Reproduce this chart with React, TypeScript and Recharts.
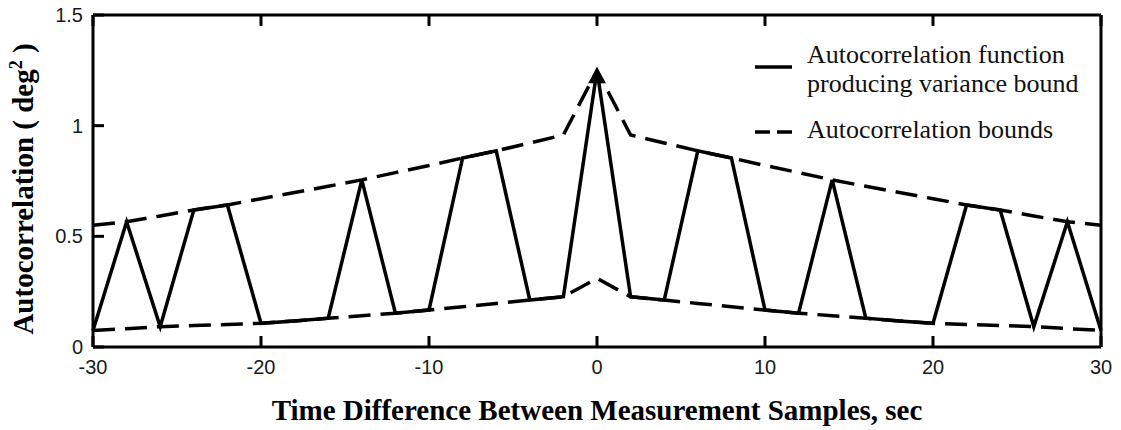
import React from "react";
import { LineChart, Line, XAxis, YAxis, Label } from "recharts";

// lag in seconds, sampled every 2 s
const lags = [
  -30, -28, -26, -24, -22, -20, -18, -16, -14, -12, -10, -8, -6, -4, -2, 0,
  2, 4, 6, 8, 10, 12, 14, 16, 18, 20, 22, 24, 26, 28, 30,
];

// autocorrelation that produces the variance bound (switches between bounds)
const acf = [
  0.075, 0.566, 0.092, 0.619, 0.642, 0.107, 0.118, 0.13, 0.755, 0.153, 0.167,
  0.854, 0.886, 0.212, 0.227, 1.25, 0.227, 0.212, 0.886, 0.854, 0.167, 0.153,
  0.755, 0.13, 0.118, 0.107, 0.642, 0.619, 0.092, 0.566, 0.075,
];

const upperBound = [
  0.55, 0.566, 0.592, 0.619, 0.642, 0.67, 0.698, 0.726, 0.755, 0.788, 0.82,
  0.854, 0.886, 0.922, 0.958, 1.25, 0.958, 0.922, 0.886, 0.854, 0.82, 0.788,
  0.755, 0.726, 0.698, 0.67, 0.642, 0.619, 0.592, 0.566, 0.55,
];

const lowerBound = [
  0.075, 0.083, 0.092, 0.097, 0.102, 0.107, 0.118, 0.13, 0.141, 0.153, 0.167,
  0.182, 0.197, 0.212, 0.227, 0.31, 0.227, 0.212, 0.197, 0.182, 0.167, 0.153,
  0.141, 0.13, 0.118, 0.107, 0.102, 0.097, 0.092, 0.083, 0.075,
];

const xTicks = [-30, -20, -10, 0, 10, 20, 30];
const yTicks = [0, 0.5, 1, 1.5];

const data = lags.map((x, i) => ({
  x,
  acf: acf[i],
  upper: upperBound[i],
  lower: lowerBound[i],
}));

const sansFont = "'Liberation Sans', Arial, sans-serif";
const serifFont = "'Liberation Serif', 'Times New Roman', serif";

const labelStyle = { fontFamily: sansFont, fontSize: 20, fill: "#1a1a1a" };

// negative tick size turns the tick marks inward, MATLAB style
const TICK = -11;
const frame = { stroke: "#000", strokeWidth: 3 };
const tickMark = { stroke: "#000", strokeWidth: 3 };

// filled arrowhead at the zero-lag peak
const PeakArrow = (props: any) => {
  const { cx, cy, payload, index } = props;
  if (payload.x !== 0) return <g key={`d-${index}`} />;
  return (
    <polygon
      key={`d-${index}`}
      points={`${cx},${cy - 2} ${cx - 9},${cy + 13} ${cx + 9},${cy + 13}`}
      fill="#000"
    />
  );
};

const legendText: React.CSSProperties = {
  position: "absolute",
  left: 807,
  fontFamily: serifFont,
  fontSize: 26,
  lineHeight: "29px",
  color: "#111",
  whiteSpace: "nowrap",
};

const ChartLegend = () => (
  <>
    <svg
      width={40}
      height={80}
      style={{ position: "absolute", left: 754, top: 55 }}
    >
      <line x1={1} y1={12} x2={38} y2={12} stroke="#000" strokeWidth={3.5} />
      <line
        x1={1}
        y1={77}
        x2={38}
        y2={77}
        stroke="#000"
        strokeWidth={3.5}
        strokeDasharray="15 7"
      />
    </svg>
    <div style={{ ...legendText, top: 40 }}>
      Autocorrelation function
      <br />
      producing variance bound
    </div>
    <div style={{ ...legendText, top: 115 }}>Autocorrelation bounds</div>
  </>
);

export default function App() {
  return (
    <div
      style={{
        position: "absolute",
        left: 0,
        top: 0,
        width: 1121,
        height: 430,
        background: "#fff",
      }}
    >
      <LineChart
        width={1121}
        height={430}
        data={data}
        margin={{ top: 14, right: 19, bottom: 0, left: 0 }}
      >
        <XAxis
          xAxisId="bottom"
          dataKey="x"
          type="number"
          domain={[-30, 30]}
          ticks={xTicks}
          height={83}
          axisLine={frame}
          tickLine={tickMark}
          tickSize={TICK}
          tickMargin={24}
          tick={labelStyle}
        >
          <Label
            content={({ viewBox }: any) => (
              <text
                x={viewBox.x + viewBox.width / 2}
                y={420}
                textAnchor="middle"
                style={{
                  fontFamily: serifFont,
                  fontWeight: "bold",
                  fontSize: 29,
                  fill: "#000",
                }}
              >
                Time Difference Between Measurement Samples, sec
              </text>
            )}
          />
        </XAxis>
        <XAxis
          xAxisId="top"
          orientation="top"
          dataKey="x"
          type="number"
          domain={[-30, 30]}
          ticks={xTicks}
          height={1}
          axisLine={frame}
          tickLine={tickMark}
          tickSize={TICK}
          tickFormatter={() => ""}
        />
        <YAxis
          yAxisId="left"
          type="number"
          domain={[0, 1.5]}
          ticks={yTicks}
          width={93}
          axisLine={frame}
          tickLine={tickMark}
          tickSize={TICK}
          tickMargin={21}
          tick={labelStyle}
        >
          <Label
            content={({ viewBox }: any) => {
              const bx = 33;
              const by = viewBox.y + viewBox.height / 2 + 8;
              return (
                <text
                  x={bx}
                  y={by}
                  transform={`rotate(-90 ${bx} ${by})`}
                  textAnchor="middle"
                  style={{
                    fontFamily: serifFont,
                    fontWeight: "bold",
                    fontSize: 29,
                    fill: "#000",
                  }}
                >
                  Autocorrelation ( deg
                  <tspan dy={-11} fontSize={18}>
                    2
                  </tspan>
                  <tspan dy={11}> )</tspan>
                </text>
              );
            }}
          />
        </YAxis>
        <YAxis
          yAxisId="right"
          orientation="right"
          type="number"
          domain={[0, 1.5]}
          ticks={yTicks}
          width={1}
          axisLine={frame}
          tickLine={tickMark}
          tickSize={TICK}
          tickFormatter={() => ""}
        />
        <Line
          xAxisId="bottom"
          yAxisId="left"
          dataKey="upper"
          stroke="#000"
          strokeWidth={3.5}
          strokeDasharray="22 10"
          dot={false}
          activeDot={false}
          isAnimationActive={false}
        />
        <Line
          xAxisId="bottom"
          yAxisId="left"
          dataKey="lower"
          stroke="#000"
          strokeWidth={3.5}
          strokeDasharray="22 10"
          dot={false}
          activeDot={false}
          isAnimationActive={false}
        />
        <Line
          xAxisId="bottom"
          yAxisId="left"
          dataKey="acf"
          stroke="#000"
          strokeWidth={3.5}
          strokeLinejoin="miter"
          dot={PeakArrow}
          activeDot={false}
          isAnimationActive={false}
        />
      </LineChart>
      <ChartLegend />
    </div>
  );
}
